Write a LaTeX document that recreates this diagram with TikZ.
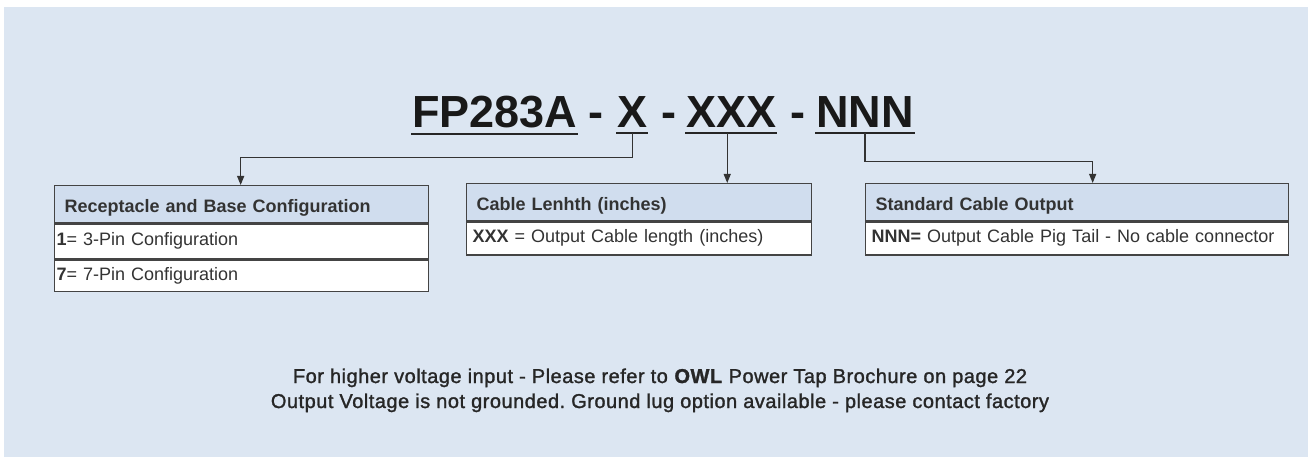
\documentclass[tikz,border=0pt]{standalone}
\usepackage{fontspec}
\setmainfont{Liberation Sans}
\newfontfamily\notefont[FakeBold=1.4,LetterSpace=2.5]{Liberation Sans}
\usetikzlibrary{positioning,arrows.meta}
\definecolor{bgfill}{HTML}{DCE6F2}
\definecolor{hdrfill}{HTML}{D0DDEE}
\definecolor{boxline}{HTML}{444444}
\definecolor{ink}{HTML}{333333}
\tikzset{
	part/.style={inner xsep=1pt,inner ysep=5pt,anchor=base west,text=black!90,font=\fontsize{45}{45}\selectfont\bfseries},
	uline/.style={line width=2pt,black!85},
	link/.style={line width=1.2pt,ink,-{Triangle[length=9pt,width=7pt]}},
	hdr/.style={draw=boxline,line width=1.3pt,fill=hdrfill,align=left,inner xsep=10pt,minimum height=37pt,text height=18pt,text depth=1pt,text=ink,font=\fontsize{18}{18}\selectfont\bfseries},
	row/.style={draw=boxline,line width=1.3pt,fill=white,align=left,inner xsep=6pt,text height=13pt,text depth=4pt,text=ink,font=\fontsize{18}{18}\selectfont},
	note/.style={anchor=base,text=black!85,font=\fontsize{20}{20}\notefont\frenchspacing}
}
\begin{document}
\begin{tikzpicture}[x=1pt,y=-1pt]
	\useasboundingbox (0,0) rectangle (1308,457);
	\fill[bgfill] (4,7) rectangle (1308,457);
	% part number
	\node[part] (fp) at (411,128) {FP283A};
	\node[part] (d1) at (587,128) {-};
	\node[part] (x) at (616,128) {X};
	\node[part] (d2) at (660,128) {-};
	\node[part] (xxx) at (685,128) {XXX};
	\node[part] (d3) at (789,128) {-};
	\node[part] (nnn) at (815,128) {NNN};
	\foreach \p in {fp,x,xxx,nnn}
		\draw[uline] (\p.south west) -- (\p.south east);
	% option tables
	\node[hdr,text width=354pt,anchor=north west] (recept) at (54,185) {Receptacle and Base Configuration};
	\node[row,text width=370pt,inner xsep=2pt,minimum height=35pt,below=0pt of recept] (pin3) {\textbf{1}= 3-Pin Configuration};
	\node[row,text width=370pt,inner xsep=2pt,minimum height=31pt,below=0pt of pin3] (pin7) {\textbf{7}= 7-Pin Configuration};
	\node[hdr,text width=325pt,anchor=north west] (cable) at (466,183) {Cable Lenhth (inches)};
	\node[row,text width=333pt,minimum height=33pt,below=0pt of cable] (len) {\textbf{XXX} = Output Cable length (inches)};
	\node[hdr,text width=403pt,anchor=north west] (output) at (865,183) {Standard Cable Output};
	\node[row,text width=411pt,minimum height=33pt,below=0pt of output] (tail) {\textbf{NNN=} Output Cable Pig Tail - No cable connector};
	% connectors
	\draw[link] (x.south) -- ++(0,24.5) -| ([xshift=-1pt]recept.north);
	\draw[link] ([xshift=-4pt]xxx.south) -- ([xshift=-4pt]xxx.south |- cable.north);
	\draw[link] (nnn.south) -- ++(0,28) -| ([xshift=15.5pt]output.north);
	% notes
	\node[note] (note1) at (660,383) {For higher voltage input - Please refer to \textbf{OWL} Power Tap Brochure on page 22};
	\node[note] (note2) at (660,408) {Output Voltage is not grounded. Ground lug option available - please contact factory};
\end{tikzpicture}
\end{document}
